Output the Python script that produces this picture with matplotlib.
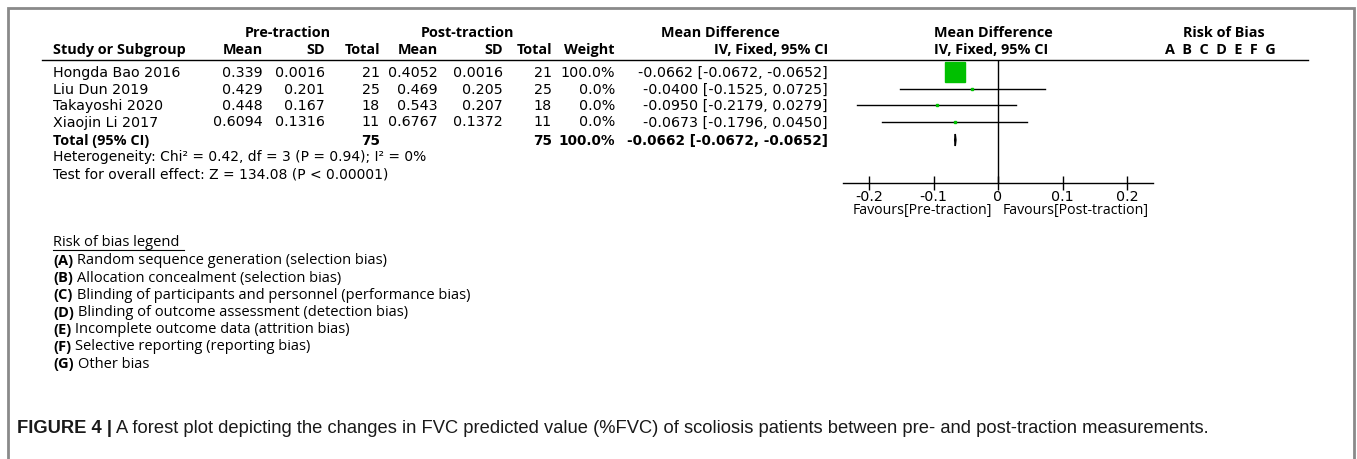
import matplotlib
matplotlib.use("Agg")
import matplotlib.pyplot as plt

# Study data
studies = ['Hongda Bao 2016', 'Liu Dun 2019', 'Takayoshi 2020', 'Xiaojin Li 2017']
pre_mean = [0.339, 0.429, 0.448, 0.6094]
pre_sd = [0.0016, 0.201, 0.167, 0.1316]
pre_n = [21, 25, 18, 11]
post_mean = [0.4052, 0.469, 0.543, 0.6767]
post_sd = [0.0016, 0.205, 0.207, 0.1372]
post_n = [21, 25, 18, 11]
weight = [100.0, 0.0, 0.0, 0.0]
md = [-0.0662, -0.0400, -0.0950, -0.0673]
ci_lo = [-0.0672, -0.1525, -0.2179, -0.1796]
ci_hi = [-0.0652, 0.0725, 0.0279, 0.0450]

total_md, total_lo, total_hi = -0.0662, -0.0672, -0.0652
ticks = [-0.2, -0.1, 0, 0.1, 0.2]
tick_labels = ['-0.2', '-0.1', '0', '0.1', '0.2']

bias_legend = [
    ('(A)', 'Random sequence generation (selection bias)'),
    ('(B)', 'Allocation concealment (selection bias)'),
    ('(C)', 'Blinding of participants and personnel (performance bias)'),
    ('(D)', 'Blinding of outcome assessment (detection bias)'),
    ('(E)', 'Incomplete outcome data (attrition bias)'),
    ('(F)', 'Selective reporting (reporting bias)'),
    ('(G)', 'Other bias'),
]

W, H = 1357, 460
fig = plt.figure(figsize=(W / 100, H / 100), dpi=100)
ax = fig.add_axes([0, 0, 1, 1])
ax.set_xlim(0, W)
ax.set_ylim(H, 0)
ax.axis('off')

FS = 10.3          # table body
HFS = 10.4         # bold headers
body_font = 'DejaVu Sans'
head_font = 'Open Sans'

# frame (left, top, right)
ax.plot([8, 8, 1354, 1354], [H, 9, 9, H], color='#8a8a8a', lw=2, solid_joinstyle='miter')

# column right edges
c_pm, c_psd, c_pn = 263, 325, 380
c_qm, c_qsd, c_qn = 438, 503, 552
c_w, c_ci = 615, 828
x0 = 53

def t(x, y, s, ha='left', size=FS, family=body_font, bold=False, **kw):
    return ax.text(x, y, s, ha=ha, va='center', fontsize=size, family=family,
                   fontweight='bold' if bold else 'normal', **kw)

def h(x, y, s, ha='left'):
    return t(x, y, s, ha=ha, size=HFS, family=head_font, bold=True)

# headers
y_h1, y_h2 = 33, 50
h(288, y_h1, 'Pre-traction', ha='center')
h(467, y_h1, 'Post-traction', ha='center')
h(720, y_h1, 'Mean Difference', ha='center')
h(993, y_h1, 'Mean Difference', ha='center')
h(1224, y_h1, 'Risk of Bias', ha='center')
h(x0, y_h2, 'Study or Subgroup')
for x, s in [(c_pm, 'Mean'), (c_psd, 'SD'), (c_pn, 'Total'), (c_qm, 'Mean'),
             (c_qsd, 'SD'), (c_qn, 'Total'), (c_w, 'Weight'), (c_ci, 'IV, Fixed, 95% CI')]:
    h(x, y_h2, s, ha='right')
h(991, y_h2, 'IV, Fixed, 95% CI', ha='center')
h(1220, y_h2, 'A  B  C  D  E  F  G', ha='center')
ax.plot([42, 1308], [61, 61], color='black', lw=1)

# study rows
row_y = [73 + 16.5 * i for i in range(len(studies))]
for i, y in enumerate(row_y):
    t(x0, y, studies[i])
    t(c_pm, y, str(pre_mean[i]), ha='right')
    t(c_psd, y, str(pre_sd[i]), ha='right')
    t(c_pn, y, str(pre_n[i]), ha='right')
    t(c_qm, y, str(post_mean[i]), ha='right')
    t(c_qsd, y, str(post_sd[i]), ha='right')
    t(c_qn, y, str(post_n[i]), ha='right')
    t(c_w, y, f'{weight[i]:.1f}%', ha='right')
    t(c_ci, y, f'{md[i]:.4f} [{ci_lo[i]:.4f}, {ci_hi[i]:.4f}]', ha='right')

# total row
y_tot = 141
TFS = 9.8
h(x0, y_tot, 'Total (95% CI)')
t(c_pn, y_tot, str(sum(pre_n)), ha='right', bold=True, size=TFS)
t(c_qn, y_tot, str(sum(post_n)), ha='right', bold=True, size=TFS)
t(c_w, y_tot, f'{sum(weight):.1f}%', ha='right', bold=True, size=TFS)
t(c_ci, y_tot, f'{total_md:.4f} [{total_lo:.4f}, {total_hi:.4f}]', ha='right', bold=True, size=TFS)
t(x0, 157.5, 'Heterogeneity: Chi\u00b2 = 0.42, df = 3 (P = 0.94); I\u00b2 = 0%', size=10)
t(x0, 174.5, 'Test for overall effect: Z = 134.08 (P < 0.00001)', size=10)

# risk of bias legend
LFS = 10.5
t(x0, 243, 'Risk of bias legend', size=LFS, family=head_font)
ax.plot([x0, 184], [251, 251], color='black', lw=0.8)
for i, (code, desc) in enumerate(bias_legend):
    y = 261 + 17.2 * i
    b = t(x0, y, code, size=LFS, family=head_font, bold=True)
    ax.annotate(desc, xy=(1, 0.5), xycoords=b, xytext=(3, 0), textcoords='offset points',
                va='center', ha='left', fontsize=LFS, family=head_font)

# caption
cap_font = 'Liberation Sans'
cb = ax.text(17, 429, 'FIGURE 4 |', ha='left', va='center', fontsize=13.2, family=cap_font,
             fontweight='bold', color='#1a1a1a')
ax.annotate('A forest plot depicting the changes in FVC predicted value (%FVC) of scoliosis '
            'patients between pre- and post-traction measurements.',
            xy=(1, 0.5), xycoords=cb, xytext=(3, 0), textcoords='offset points',
            va='center', ha='left', fontsize=13.2, family=cap_font, color='#1a1a1a')

# forest panel
px_per_unit = 645
xl, xr = -0.24, 0.24
left_px = 998 + xl * px_per_unit
y_top, y_axis = 61, 184
fa = fig.add_axes([left_px / W, (H - y_axis) / H, (xr - xl) * px_per_unit / W, (y_axis - y_top) / H])
fa.set_xlim(xl, xr)
fa.set_ylim(y_axis, y_top)
fa.patch.set_visible(False)
for s in ['top', 'left', 'right']:
    fa.spines[s].set_visible(False)
fa.spines['bottom'].set_linewidth(1)
fa.set_yticks([])
fa.set_xticks(ticks)
fa.set_xticklabels(tick_labels, family=body_font, fontsize=FS)
fa.tick_params(axis='x', direction='inout', length=10, width=1, pad=-1)
fa.axvline(0, color='black', lw=1)

for i, y in enumerate(row_y):
    fa.plot([ci_lo[i], ci_hi[i]], [y, y], color='black', lw=1, zorder=2)
    ms = 15.1 * (weight[i] / 100) ** 0.5
    fa.plot(md[i], y, marker='s', ms=max(ms, 1.5), color='#00c000', mec='#00c000', zorder=3)
fa.fill([total_lo, total_md, total_hi, total_md], [y_tot, y_tot - 6, y_tot, y_tot + 6],
        color='black', lw=1, ec='black')

t(992, 211, 'Favours[Pre-traction]', ha='right', size=10.2, family=head_font)
t(1003, 211, 'Favours[Post-traction]', size=10.2, family=head_font)

fig.savefig('out.png', dpi=100)
